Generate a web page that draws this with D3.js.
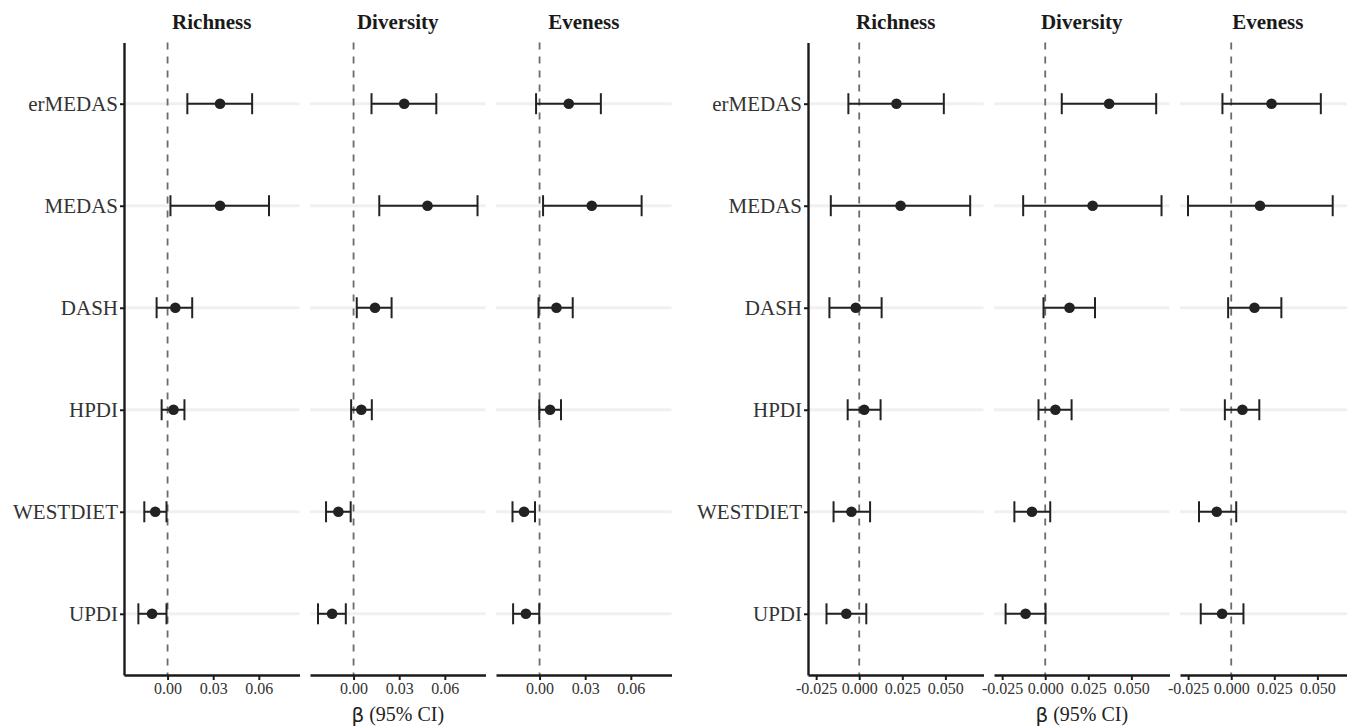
<!DOCTYPE html>
<html>
<head>
<meta charset="utf-8">
<script src="https://cdn.jsdelivr.net/npm/d3@7"></script>
<style>
  body { margin: 0; background: #fff; }
  text { font-family: "Liberation Serif", "Times New Roman", serif; }
</style>
</head>
<body>
<svg id="chart" width="1347" height="727"></svg>
<script>
/* data: [beta, lower, upper] per diet score, same order as categories */
var categories = ["erMEDAS", "MEDAS", "DASH", "HPDI", "WESTDIET", "UPDI"];
var outcomes = ["Richness", "Diversity", "Eveness"];

// left model
var richnessA = [[0.0345, 0.0130, 0.0556], [0.0345, 0.0019, 0.0667], [0.0051, -0.0072, 0.0162],
                 [0.0039, -0.0039, 0.0111], [-0.0081, -0.0153, -0.0007], [-0.0102, -0.0192, -0.0007]];
var diversityA = [[0.0333, 0.0118, 0.0544], [0.0486, 0.0169, 0.0815], [0.0141, 0.0021, 0.0250],
                  [0.0051, -0.0016, 0.0120], [-0.0100, -0.0181, -0.0019], [-0.0141, -0.0234, -0.0051]];
var evenessA = [[0.0192, -0.0023, 0.0403], [0.0343, 0.0023, 0.0671], [0.0111, -0.0007, 0.0218],
                [0.0069, -0.0002, 0.0141], [-0.0102, -0.0178, -0.0030], [-0.0090, -0.0174, -0.0002]];

// right model
var richnessB = [[0.0216, -0.0063, 0.0491], [0.0240, -0.0165, 0.0644], [-0.0020, -0.0173, 0.0130],
                 [0.0029, -0.0067, 0.0124], [-0.0045, -0.0149, 0.0063], [-0.0075, -0.0190, 0.0041]];
var diversityB = [[0.0371, 0.0096, 0.0644], [0.0275, -0.0128, 0.0675], [0.0141, -0.0010, 0.0289],
                  [0.0059, -0.0039, 0.0153], [-0.0077, -0.0179, 0.0029], [-0.0114, -0.0230, 0.0002]];
var evenessB = [[0.0234, -0.0051, 0.0520], [0.0167, -0.0251, 0.0589], [0.0135, -0.0018, 0.0291],
                [0.0065, -0.0037, 0.0163], [-0.0084, -0.0187, 0.0029], [-0.0053, -0.0177, 0.0071]];

var ticksA = [0, 0.03, 0.06];
var ticksB = [-0.025, 0, 0.025, 0.05];

var svg = d3.select("#chart");

var panelTop = 42.5, panelBottom = 675;
var panelW = 175.5, panelGap = 10.5;

function drawChart(left, panels, ticks, digits) {
  var g = svg.append("g");

  // shared x scale, 5% expansion like ggplot
  var all = d3.merge(panels.map(p => d3.merge(p)));
  var lo = d3.min(all), hi = d3.max(all);
  var pad = (hi - lo) * 0.05;

  var y = d3.scalePoint().domain(categories).range([panelTop, panelBottom]).padding(0.6);

  panels.forEach(function (rows, i) {
    var x0 = left + i * (panelW + panelGap);
    var x = d3.scaleLinear().domain([lo - pad, hi + pad]).range([x0, x0 + panelW]);
    var p = g.append("g");

    // grid
    p.selectAll(".grid").data(categories).enter().append("line")
      .attr("x1", x0).attr("x2", x0 + panelW)
      .attr("y1", d => y(d)).attr("y2", d => y(d))
      .attr("stroke", "#f0f0f0").attr("stroke-width", 3);

    // zero line
    p.append("line")
      .attr("x1", x(0)).attr("x2", x(0)).attr("y1", panelTop).attr("y2", panelBottom)
      .attr("stroke", "#6b6b6b").attr("stroke-width", 1.8)
      .attr("stroke-dasharray", "7,7");

    // strip
    p.append("text")
      .attr("x", x0 + panelW / 2).attr("y", 24)
      .attr("text-anchor", "middle").attr("dominant-baseline", "middle")
      .attr("font-weight", "bold").attr("font-size", 21).attr("fill", "#1a1a1a")
      .text(outcomes[i]);

    var bars = p.selectAll(".ci").data(rows).enter().append("g");
    bars.append("line")
      .attr("x1", d => x(d[1])).attr("x2", d => x(d[2]))
      .attr("y1", (d, j) => y(categories[j])).attr("y2", (d, j) => y(categories[j]));
    bars.append("line")
      .attr("x1", d => x(d[1])).attr("x2", d => x(d[1]))
      .attr("y1", (d, j) => y(categories[j]) - 10.5).attr("y2", (d, j) => y(categories[j]) + 10.5);
    bars.append("line")
      .attr("x1", d => x(d[2])).attr("x2", d => x(d[2]))
      .attr("y1", (d, j) => y(categories[j]) - 10.5).attr("y2", (d, j) => y(categories[j]) + 10.5);
    bars.selectAll("line").attr("stroke", "#222").attr("stroke-width", 2);
    bars.append("circle")
      .attr("cx", d => x(d[0])).attr("cy", (d, j) => y(categories[j]))
      .attr("r", 5.3).attr("fill", "#222");

    // x axis
    var ax = p.append("g").attr("transform", "translate(0," + panelBottom + ")")
      .call(d3.axisBottom(x).tickValues(ticks).tickSize(5).tickSizeOuter(0).tickPadding(3)
        .tickFormat(d => d.toFixed(digits)));
    ax.select(".domain").attr("stroke", "#1a1a1a").attr("stroke-width", 2.4);
    ax.selectAll(".tick line").attr("stroke", "#1a1a1a").attr("stroke-width", 2);
    ax.selectAll(".tick text").attr("font-family", "Liberation Serif").attr("font-size", 16).attr("fill", "#333");
  });

  // y axis
  var ay = g.append("g").attr("transform", "translate(" + left + ",0)")
    .call(d3.axisLeft(y).tickSize(4).tickSizeOuter(0).tickPadding(2));
  ay.select(".domain").attr("stroke", "#1a1a1a").attr("stroke-width", 2.4);
  ay.selectAll(".tick line").attr("stroke", "#1a1a1a").attr("stroke-width", 2);
  ay.selectAll(".tick text").attr("font-family", "Liberation Serif").attr("font-size", 21).attr("fill", "#333");

  // axis title
  var full = 3 * panelW + 2 * panelGap;
  var t = g.append("text")
    .attr("x", left + full / 2).attr("y", 716)
    .attr("text-anchor", "middle").attr("dominant-baseline", "middle")
    .attr("font-size", 20).attr("fill", "#222");
  t.append("tspan").attr("font-family", "DejaVu Sans").text("β");
  t.append("tspan").text(" (95% CI)");
}

drawChart(124, [richnessA, diversityA, evenessA], ticksA, 2);
drawChart(808, [richnessB, diversityB, evenessB], ticksB, 3);
</script>
</body>
</html>
